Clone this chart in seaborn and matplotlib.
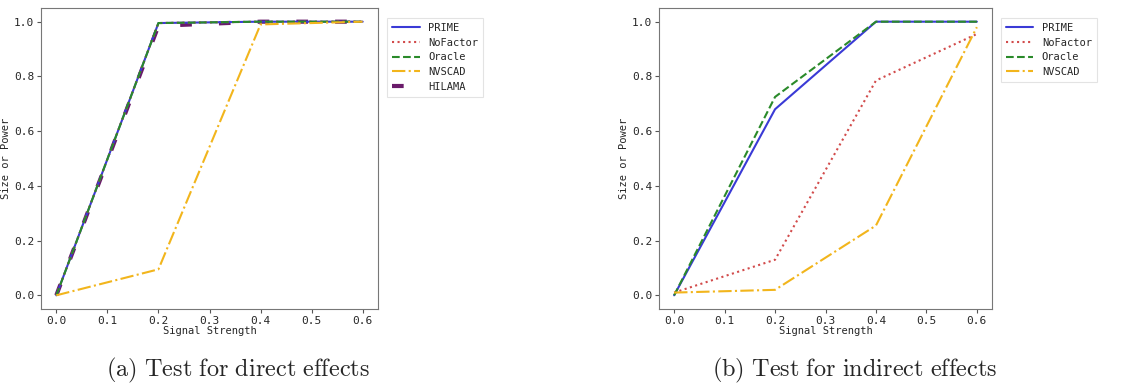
import numpy as np
import pandas as pd
import seaborn as sns
import matplotlib
matplotlib.use("Agg")
import matplotlib.pyplot as plt

signal = [0.0, 0.2, 0.4, 0.6]

methods_direct = ["PRIME", "NoFactor", "Oracle", "NVSCAD", "HILAMA"]
direct_prime = [0.0, 0.995, 1.0, 1.0]
direct_nofactor = [0.0, 0.995, 1.0, 1.0]
direct_oracle = [0.0, 0.995, 1.0, 1.0]
direct_nvscad = [0.0, 0.095, 0.99, 1.0]
direct_hilama = [0.0, 0.985, 1.0, 1.0]

methods_indirect = ["PRIME", "NoFactor", "Oracle", "NVSCAD"]
indirect_prime = [0.0, 0.68, 1.0, 1.0]
indirect_nofactor = [0.01, 0.13, 0.785, 0.955]
indirect_oracle = [0.0, 0.725, 1.0, 1.0]
indirect_nvscad = [0.01, 0.02, 0.255, 0.98]

styles = {
    "PRIME": dict(color="#3a3ad6", linestyle="-", linewidth=1.5, zorder=3),
    "NoFactor": dict(color="#d24b4b", linestyle=":", linewidth=1.5, zorder=3),
    "Oracle": dict(color="#2a8a2a", linestyle="--", linewidth=1.5, zorder=3),
    "NVSCAD": dict(color="#f2b51c", linestyle="-.", linewidth=1.5, zorder=3),
    "HILAMA": dict(color="#6a1b6a", linestyle=(0, (2.8, 6.5)), linewidth=3, zorder=2),
}

sns.set_style("white")
plt.rcParams["font.family"] = ["DejaVu Sans Mono"]
plt.rcParams["mathtext.fontset"] = "cm"

fig = plt.figure(figsize=(11.37, 3.89), dpi=100)
ax1 = fig.add_axes([41 / 1137, 1 - 309 / 389, 337 / 1137, 301 / 389])
ax2 = fig.add_axes([659 / 1137, 1 - 309 / 389, 333 / 1137, 301 / 389])

direct = {"PRIME": direct_prime, "NoFactor": direct_nofactor, "Oracle": direct_oracle,
          "NVSCAD": direct_nvscad, "HILAMA": direct_hilama}
indirect = {"PRIME": indirect_prime, "NoFactor": indirect_nofactor,
            "Oracle": indirect_oracle, "NVSCAD": indirect_nvscad}

for ax, data in [(ax1, direct), (ax2, indirect)]:
    for name, vals in data.items():
        sns.lineplot(x=signal, y=vals, ax=ax, label=name, **styles[name])
    ax.set_xticks([0.0, 0.1, 0.2, 0.3, 0.4, 0.5, 0.6])
    ax.set_yticks([0.0, 0.2, 0.4, 0.6, 0.8, 1.0])
    ax.set_xticklabels([f"{v:.1f}" for v in ax.get_xticks()])
    ax.set_yticklabels([f"{v:.1f}" for v in ax.get_yticks()])
    ax.tick_params(labelsize=8, length=3, color="#555555", direction="out",
                   bottom=True, left=True, pad=2)
    ax.set_xlabel("Signal Strength", fontsize=7.5, labelpad=0)
    ax.set_ylabel("Size or Power", fontsize=7.5, labelpad=2)
    for sp in ax.spines.values():
        sp.set_color("#777777")
        sp.set_linewidth(0.8)
    leg = ax.legend(loc="upper left", bbox_to_anchor=(1.012, 0.985), fontsize=7.5,
                    frameon=True, fancybox=False, handlelength=2.6,
                    borderpad=0.5, labelspacing=0.45)
    leg.get_frame().set_edgecolor("#dddddd")
    leg.get_frame().set_linewidth(0.8)

fig.text(238 / 1137, 1 - 370 / 389, r"$\mathrm{(a)\ Test\ for\ direct\ effects}$",
         ha="center", va="center", fontsize=17.5)
fig.text(855 / 1137, 1 - 370 / 389, r"$\mathrm{(b)\ Test\ for\ indirect\ effects}$",
         ha="center", va="center", fontsize=17.5)

fig.savefig("out.png", dpi=100)
